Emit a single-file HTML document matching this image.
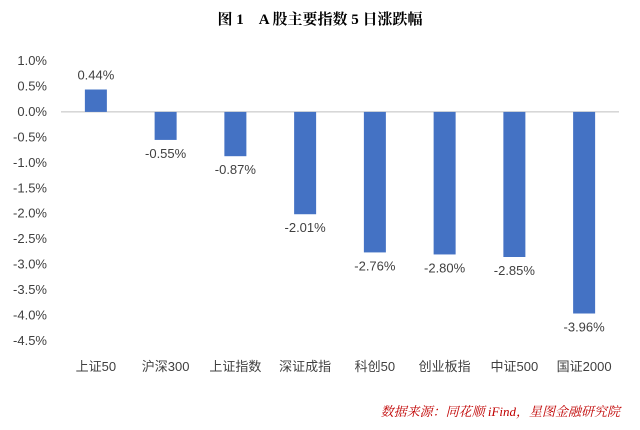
<!DOCTYPE html>
<html><head><meta charset="utf-8"><style>
body{margin:0;background:#fff;}
svg{display:block;font-family:"Liberation Sans","Noto Sans CJK SC",sans-serif;}
</style></head><body>
<svg id="c" width="640" height="430">
<text x="320" y="24" text-anchor="middle" font-size="15" font-weight="bold" font-family="'Liberation Serif','Noto Serif CJK SC',serif" fill="#000">图 1　A 股主要指数 5 日涨跌幅</text>
<text x="620" y="416" text-anchor="end" font-size="13" font-style="italic" fill="#c00000" font-family="'Liberation Serif','Noto Serif CJK SC',serif">数据来源：同花顺 iFind，星图金融研究院</text>
</svg>
<script>
const categories=["上证50","沪深300","上证指数","深证成指","科创50","创业板指","中证500","国证2000"];
const values=[0.44,-0.55,-0.87,-2.01,-2.76,-2.80,-2.85,-3.96];
const yTicks=[1.0,0.5,0.0,-0.5,-1.0,-1.5,-2.0,-2.5,-3.0,-3.5,-4.0,-4.5];
const svg=document.getElementById('c');const NS='http://www.w3.org/2000/svg';
const yMax=1.0,yMin=-4.5,pTop=61,pBot=341,pLeft=61,pRight=619;
const y=v=>pTop+(yMax-v)/(yMax-yMin)*(pBot-pTop);
const step=(pRight-pLeft)/categories.length;
const x=i=>pLeft+step*(i+0.5);
function mk(t,a){const e=document.createElementNS(NS,t);for(const k in a)e.setAttribute(k,a[k]);svg.appendChild(e);return e;}
yTicks.forEach(t=>{const e=mk('text',{x:47,y:y(t)+4,'text-anchor':'end','font-size':13,fill:'#404040'});


e.textContent=t.toFixed(1)+'%';});
const ax=mk('line',{x1:pLeft,x2:pRight,y1:y(0),y2:y(0),stroke:'#bfbfbf','stroke-width':1});


values.forEach((v,i)=>{const bw=22;const y0=y(0),y1=y(v);
const r=mk('rect',{x:x(i)-bw/2,y:Math.min(y0,y1),width:bw,height:Math.abs(y1-y0),fill:'#4472c4'});


const l=mk('text',{x:x(i),y:v>=0?y1-10:y1+18,'text-anchor':'middle','font-size':13,fill:'#404040'});


l.textContent=v.toFixed(2)+'%';
const c=mk('text',{x:x(i),y:371,'text-anchor':'middle','font-size':13,fill:'#404040'});


c.textContent=categories[i];});
</script>
</body></html>
